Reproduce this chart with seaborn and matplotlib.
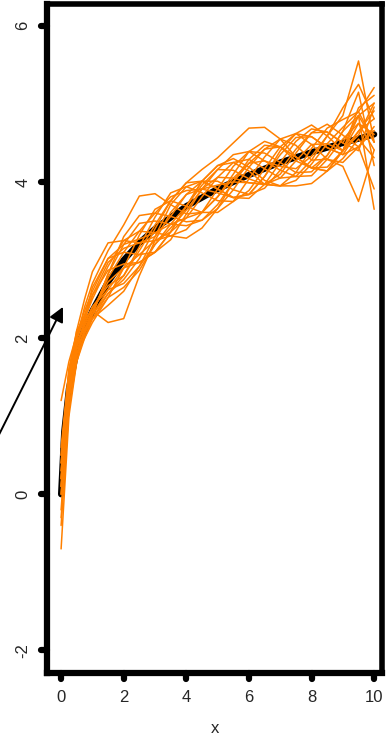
import pandas as pd
import numpy as np
import matplotlib.pyplot as plt
import seaborn as sns
from matplotlib.markers import MarkerStyle, TICKDOWN, TICKLEFT

# black mean curve
mean_x = [0, 0.1, 0.25, 0.5, 0.75, 1, 1.5, 2, 2.5, 3, 4, 5, 6, 7, 8, 9, 10]
mean_y = [0, 0.8, 1.35, 1.85, 2.12, 2.35, 2.72, 3.0, 3.22, 3.4, 3.69, 3.91, 4.09, 4.25, 4.38, 4.5, 4.61]

# orange sampled curves (all on the same x grid)
grid_x = [0, 0.25, 0.5, 0.75, 1, 1.5, 2, 2.5, 3, 3.5, 4, 4.5, 5, 5.5, 6, 6.5, 7, 7.5, 8, 8.5, 9, 9.5, 10]
curves = [
    [0.5, 1.6, 2.1, 2.25, 2.35, 2.2, 2.25, 2.8, 3.25, 3.61, 3.84, 3.91, 3.86, 3.8, 3.84, 4.07, 4.35, 4.57, 4.58, 4.44, 4.35, 4.65, 4.91],
    [0.1, 1.4, 2.0, 2.4, 2.7, 3.12, 3.45, 3.82, 3.85, 3.71, 3.59, 3.61, 3.81, 4.1, 4.39, 4.52, 4.45, 4.27, 4.18, 4.34, 4.65, 4.85, 4.51],
    [-0.2, 1.2, 1.8, 2.1, 2.3, 2.62, 2.9, 3.07, 3.25, 3.31, 3.28, 3.41, 3.66, 4.0, 4.29, 4.47, 4.45, 4.32, 4.18, 4.14, 4.4, 4.85, 5.01],
    [0.3, 1.5, 1.9, 2.07, 2.25, 2.57, 2.8, 3.12, 3.45, 3.76, 3.99, 4.16, 4.31, 4.5, 4.69, 4.7, 4.55, 4.32, 4.18, 4.19, 4.4, 4.75, 4.41],
    [0.0, 1.3, 1.9, 2.22, 2.55, 2.97, 3.15, 3.22, 3.25, 3.36, 3.54, 3.81, 4.06, 4.25, 4.29, 4.17, 4.05, 4.07, 4.28, 4.59, 4.85, 5.55, 4.51],
    [0.4, 1.45, 1.95, 2.17, 2.4, 2.62, 2.7, 2.92, 3.3, 3.71, 3.94, 4.01, 3.91, 3.8, 3.79, 3.97, 4.25, 4.52, 4.68, 4.64, 4.5, 4.85, 3.65],
    [-0.7, 1.0, 1.7, 2.05, 2.3, 2.82, 3.3, 3.57, 3.6, 3.56, 3.49, 3.51, 3.66, 3.9, 4.19, 4.42, 4.55, 4.47, 4.28, 4.29, 4.2, 3.75, 4.41],
    [1.2, 1.7, 2.05, 2.3, 2.55, 2.87, 2.95, 2.97, 3.1, 3.36, 3.69, 4.01, 4.21, 4.25, 4.14, 3.97, 3.95, 4.12, 4.43, 4.69, 4.8, 4.9, 5.21],
    [0.2, 1.5, 2.1, 2.5, 2.85, 3.22, 3.25, 3.22, 3.3, 3.56, 3.84, 4.01, 4.01, 3.9, 3.84, 3.92, 4.15, 4.42, 4.63, 4.64, 4.5, 4.4, 4.96],
    [0.1, 1.35, 1.8, 2.0, 2.2, 2.52, 2.9, 3.32, 3.65, 3.76, 3.69, 3.61, 3.61, 3.75, 4.04, 4.32, 4.55, 4.62, 4.48, 4.29, 4.25, 4.45, 4.71],
    [0.3, 1.4, 1.9, 2.15, 2.35, 2.77, 3.1, 3.37, 3.6, 3.81, 3.89, 3.91, 3.96, 4.0, 3.99, 3.97, 3.95, 3.95, 3.98, 4.14, 4.4, 4.65, 4.81],
    [-0.3, 1.1, 1.75, 2.05, 2.3, 2.57, 2.75, 3.02, 3.4, 3.76, 3.99, 4.01, 3.91, 3.8, 3.84, 4.07, 4.4, 4.62, 4.73, 4.59, 4.4, 4.6, 5.01],
    [0.5, 1.55, 2.0, 2.25, 2.5, 2.92, 3.25, 3.37, 3.35, 3.31, 3.39, 3.61, 3.91, 4.2, 4.39, 4.37, 4.25, 4.12, 4.13, 4.34, 4.65, 5.15, 4.21],
    [0.0, 1.25, 1.8, 2.1, 2.35, 2.72, 2.9, 2.97, 3.1, 3.36, 3.69, 4.01, 4.21, 4.3, 4.19, 4.02, 3.95, 4.02, 4.23, 4.49, 4.7, 4.9, 4.51],
    [0.2, 1.4, 1.9, 2.2, 2.4, 2.67, 2.8, 3.17, 3.55, 3.86, 3.94, 3.86, 3.76, 3.75, 3.89, 4.17, 4.45, 4.62, 4.58, 4.44, 4.35, 4.45, 3.91],
    [-0.4, 1.1, 1.7, 2.0, 2.25, 2.52, 2.65, 2.87, 3.2, 3.46, 3.54, 3.61, 3.81, 4.05, 4.24, 4.27, 4.2, 4.17, 4.33, 4.59, 4.95, 5.25, 4.81],
    [0.6, 1.6, 2.05, 2.35, 2.6, 3.02, 3.2, 3.27, 3.35, 3.46, 3.69, 3.96, 4.16, 4.15, 4.04, 3.97, 4.1, 4.37, 4.63, 4.74, 4.6, 4.45, 4.66],
    [0.1, 1.3, 1.85, 2.1, 2.3, 2.82, 3.2, 3.47, 3.5, 3.46, 3.44, 3.51, 3.71, 4.0, 4.24, 4.42, 4.45, 4.32, 4.18, 4.14, 4.3, 4.55, 4.31],
    [0.4, 1.5, 1.95, 2.12, 2.25, 2.42, 2.6, 2.92, 3.2, 3.41, 3.64, 3.91, 4.06, 4.05, 3.99, 3.97, 4.05, 4.27, 4.48, 4.49, 4.4, 4.95, 5.11],
    [0.2, 1.45, 2.0, 2.27, 2.65, 3.02, 3.1, 3.07, 3.1, 3.26, 3.59, 3.91, 4.16, 4.35, 4.39, 4.27, 4.15, 4.07, 4.08, 4.29, 4.55, 4.75, 4.61],
]

x_ticks = [0, 2, 4, 6, 8, 10]
y_ticks = [-2, 0, 2, 4, 6]

rows = []
for i, c in enumerate(curves):
    for xv, yv in zip(grid_x, c):
        rows.append({'x': xv, 'y': yv, 'run': i})
df = pd.DataFrame(rows)
mean_df = pd.DataFrame({'x': mean_x, 'y': mean_y})

sns.set_style('white')
plt.rcParams['font.family'] = ['Liberation Sans', 'DejaVu Sans']

fig = plt.figure(figsize=(3.86, 7.37), dpi=100)
ax = fig.add_axes([0.1218, 0.0868, 0.8678, 0.9078])

sns.lineplot(data=mean_df, x='x', y='y', color='black', lw=4.5, ax=ax)
sns.lineplot(data=df, x='x', y='y', units='run', estimator=None,
             color='#FF8000', lw=1.1, ax=ax)

ax.annotate('', xy=(0.06, 2.4), xytext=(-2.25, 0.55),
            xycoords='data', textcoords='data', annotation_clip=False,
            arrowprops=dict(arrowstyle='-|>', color='black', lw=1.4,
                            mutation_scale=22, shrinkA=0, shrinkB=0))

ax.set_xlim(-0.45, 10.25)
ax.set_ylim(-2.29, 6.28)
ax.set_xticks(x_ticks)
ax.set_yticks(y_ticks)
ax.set_xticklabels([str(t) for t in x_ticks])
ax.set_yticklabels([str(t) for t in y_ticks], rotation=90, va='center')
ax.set_xlabel('x', fontsize=12, labelpad=12)
ax.set_ylabel('')

for s in ['left', 'bottom']:
    ax.spines[s].set_linewidth(4.5)
for s in ['top', 'right']:
    ax.spines[s].set_linewidth(4.0)
for s in ax.spines.values():
    s.set_color('black')
    s.set_visible(True)

ax.tick_params(axis='both', which='major', bottom=True, left=True,
               direction='out', length=4, width=4.5,
               color='black', labelsize=12, pad=8)

# rounded tick ends, like little dots
for t in ax.xaxis.get_major_ticks():
    t.tick1line.set_marker(MarkerStyle(TICKDOWN, capstyle='round'))
for t in ax.yaxis.get_major_ticks():
    t.tick1line.set_marker(MarkerStyle(TICKLEFT, capstyle='round'))

fig.savefig('out.png', dpi=100)
